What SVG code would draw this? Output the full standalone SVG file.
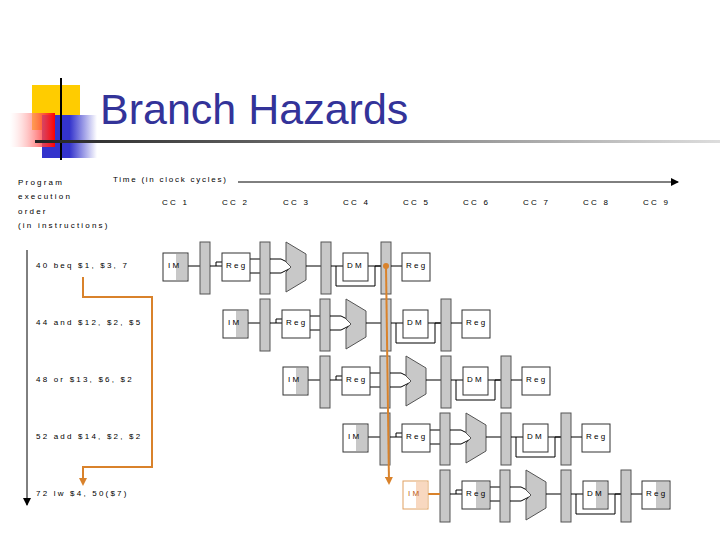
<svg xmlns="http://www.w3.org/2000/svg" width="720" height="540" viewBox="0 0 720 540">
<defs>
<style>
.t{font-family:"Liberation Sans",Arial,sans-serif;font-size:8px;letter-spacing:2.2px;fill:#000}
.bar{fill:#c8c8c8;stroke:#555;stroke-width:1}
.box{fill:#fff;stroke:#333;stroke-width:1}
.g{fill:#c8c8c8}
.w{fill:none;stroke:#000;stroke-width:1}
.o{fill:none;stroke:#d9822b;stroke-width:2}
</style>
<linearGradient id="red" x1="0" x2="1"><stop offset="0" stop-color="#fff" stop-opacity="0.3"/><stop offset="1" stop-color="#f00"/></linearGradient>
<linearGradient id="blu" x1="0" x2="1"><stop offset="0.5" stop-color="#3333cc"/><stop offset="1" stop-color="#fff"/></linearGradient>
<linearGradient id="hl" x1="0" x2="1"><stop offset="0" stop-color="#222"/><stop offset="1" stop-color="#ddd"/></linearGradient>
<marker id="ab" markerWidth="8" markerHeight="8" refX="7" refY="4" orient="auto" markerUnits="userSpaceOnUse"><path d="M0,0 L8,4 L0,8 z" fill="#000"/></marker>
<marker id="ao" markerWidth="8" markerHeight="8" refX="6" refY="4" orient="auto" markerUnits="userSpaceOnUse"><path d="M0,0 L8,4 L0,8 z" fill="#d9822b"/></marker>
<g id="stage">
<line class="w" x1="25" y1="0" x2="37" y2="0"/>
<rect class="bar" x="37" y="-24" width="10" height="52"/>
<path class="w" d="M47,0 H53 V-4 H59 M53,0 H59"/>
<line class="w" x1="87" y1="-7" x2="97" y2="-7"/><line class="w" x1="87" y1="7" x2="97" y2="7"/>
<rect class="bar" x="97" y="-24" width="10" height="52"/>
<path class="w" d="M107,-7 H118 L126,-3 M107,7 H118 L126,3"/>
<path class="bar" d="M123,-24 L143,-12 L143,14 L123,26 L123,6 L128,1 L123,-4 Z"/>
<line class="w" x1="143" y1="0" x2="158" y2="0"/>
<rect class="bar" x="158" y="-24" width="10" height="52"/>
<path class="w" d="M168,0 H180 M173,0 V20 H212 V0 H218 M205,0 H218"/>
<rect class="bar" x="218" y="-24" width="10" height="52"/>
<line class="w" x1="228" y1="0" x2="239" y2="0"/>
</g>
</defs>
<rect width="720" height="540" fill="#fff"/>
<g id="decor">
<rect x="32" y="85" width="48" height="45" fill="#ffcc00"/>
<rect x="42" y="115" width="55" height="43" fill="url(#blu)"/>
<rect x="10" y="113" width="45" height="34" fill="url(#red)"/>
<line x1="61" y1="78" x2="61" y2="160" stroke="#000" stroke-width="2"/>
<rect x="35" y="140" width="685" height="3" fill="url(#hl)"/>
</g>
<text x="100" y="124" font-family="Liberation Sans,Arial,sans-serif" font-size="43" fill="#333399">Branch Hazards</text>
<g id="labels">
<text class="t" x="18" y="185">Program</text>
<text class="t" x="18" y="199">execution</text>
<text class="t" x="18" y="214">order</text>
<text class="t" x="18" y="228">(in instructions)</text>
<text class="t" x="113" y="182" textLength="115" lengthAdjust="spacing">Time (in clock cycles)</text>
<text class="t" x="162" y="205">CC 1</text><text class="t" x="222" y="205">CC 2</text><text class="t" x="283" y="205">CC 3</text>
<text class="t" x="343" y="205">CC 4</text><text class="t" x="403" y="205">CC 5</text><text class="t" x="463" y="205">CC 6</text>
<text class="t" x="523" y="205">CC 7</text><text class="t" x="583" y="205">CC 8</text><text class="t" x="643" y="205">CC 9</text>
<text class="t" x="36" y="268">40 beq $1, $3, 7</text>
<text class="t" x="36" y="325">44 and $12, $2, $5</text>
<text class="t" x="36" y="382">48 or $13, $6, $2</text>
<text class="t" x="36" y="439">52 add $14, $2, $2</text>
<text class="t" x="36" y="496">72 lw $4, 50($7)</text>
</g>
<g id="connectors">
<line x1="238" y1="182" x2="678" y2="182" stroke="#000" marker-end="url(#ab)"/>
<line x1="27" y1="250" x2="27" y2="505" stroke="#000" marker-end="url(#ab)"/>
<use href="#stage" x="163" y="266"/>
<use href="#stage" x="223" y="323"/>
<use href="#stage" x="283" y="380"/>
<use href="#stage" x="343" y="437"/>
<use href="#stage" x="403" y="494"/>
<path class="o" d="M83,277 V297 H152 V467 H83 V484" marker-end="url(#ao)"/>
<circle cx="386" cy="266" r="3" fill="#d9822b"/>
<path class="o" d="M386,266 L389,483" marker-end="url(#ao)"/>
<line class="o" x1="428" y1="494" x2="440" y2="494"/>
</g>
<g id="nodes">
<g id="r1"><rect class="box" x="163" y="253" width="25" height="28"/><rect class="g" x="176" y="254" width="11" height="26"/><text class="t" x="168" y="268">IM</text>
<rect class="box" x="222" y="253" width="28" height="28"/><text class="t" x="226" y="268">Reg</text>
<rect class="box" x="343" y="253" width="25" height="28"/><text class="t" x="347" y="268">DM</text>
<rect class="box" x="402" y="253" width="28" height="28"/><text class="t" x="406" y="268">Reg</text></g>
<g id="r2"><rect class="box" x="223" y="310" width="25" height="28"/><rect class="g" x="236" y="311" width="11" height="26"/><text class="t" x="228" y="325">IM</text>
<rect class="box" x="282" y="310" width="28" height="28"/><text class="t" x="286" y="325">Reg</text>
<rect class="box" x="403" y="310" width="25" height="28"/><text class="t" x="407" y="325">DM</text>
<rect class="box" x="462" y="310" width="28" height="28"/><text class="t" x="466" y="325">Reg</text></g>
<g id="r3"><rect class="box" x="283" y="367" width="25" height="28"/><rect class="g" x="296" y="368" width="11" height="26"/><text class="t" x="288" y="382">IM</text>
<rect class="box" x="342" y="367" width="28" height="28"/><text class="t" x="346" y="382">Reg</text>
<rect class="box" x="463" y="367" width="25" height="28"/><text class="t" x="467" y="382">DM</text>
<rect class="box" x="522" y="367" width="28" height="28"/><text class="t" x="526" y="382">Reg</text></g>
<g id="r4"><rect class="box" x="343" y="424" width="25" height="28"/><rect class="g" x="356" y="425" width="11" height="26"/><text class="t" x="348" y="439">IM</text>
<rect class="box" x="402" y="424" width="28" height="28"/><text class="t" x="406" y="439">Reg</text>
<rect class="box" x="523" y="424" width="25" height="28"/><text class="t" x="527" y="439">DM</text>
<rect class="box" x="582" y="424" width="28" height="28"/><text class="t" x="586" y="439">Reg</text></g>
<g id="r5"><rect x="403" y="481" width="25" height="28" fill="#fff" stroke="#e0a060"/><rect x="416" y="482" width="11" height="26" fill="#f8d8c0"/><text class="t" x="408" y="496" style="fill:#c06020">IM</text>
<rect class="box" x="462" y="481" width="28" height="28"/><rect class="g" x="476" y="482" width="13" height="26"/><text class="t" x="466" y="496">Reg</text>
<rect class="box" x="583" y="481" width="25" height="28"/><rect class="g" x="596" y="482" width="11" height="26"/><text class="t" x="587" y="496">DM</text>
<rect class="box" x="642" y="481" width="28" height="28"/><rect class="g" x="656" y="482" width="13" height="26"/><text class="t" x="646" y="496">Reg</text></g>
</g>
</svg>
